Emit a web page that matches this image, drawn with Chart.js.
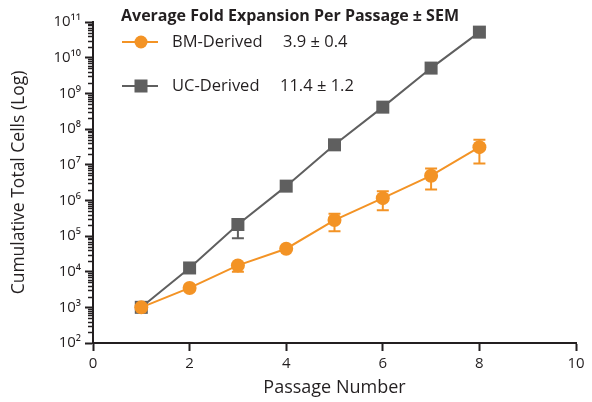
<!DOCTYPE html>
<html>
<head>
<meta charset="utf-8">
<script src="https://cdn.jsdelivr.net/npm/chart.js@4"></script>
<style>
  html, body { margin: 0; padding: 0; background: #fff; }
  #wrap { width: 592px; height: 402px; }
</style>
</head>
<body>
<div id="wrap"><canvas id="chart"></canvas></div>
<script>
// passage numbers and cumulative cell counts
const passages = [1, 2, 3, 4, 5, 6, 7, 8];

const bmMean = [1000, 3500, 15000, 44000, 280000, 1150000, 4900000, 31000000];
const bmLow  = [1000, 3500, 10000, 44000, 135000, 530000, 2000000, 10700000];
const bmHigh = [1000, 3500, 17000, 44000, 420000, 1800000, 7800000, 50000000];

const ucMean = [1000, 12700, 210000, 2500000, 36000000, 410000000, 5100000000, 52000000000];
const ucLow  = [1000, 12700, 87000, 2500000, 36000000, 410000000, 5100000000, 52000000000];
const ucHigh = [1000, 12700, 210000, 2500000, 36000000, 410000000, 5100000000, 52000000000];

const seriesNames = ["BM-Derived", "UC-Derived"];
const foldText = ["3.9 \u00b1 0.4", "11.4 \u00b1 1.2"];
const legendTitle = "Average Fold Expansion Per Passage \u00b1 SEM";

const xTicks = [0, 2, 4, 6, 8, 10];
const yExponents = [2, 3, 4, 5, 6, 7, 8, 9, 10, 11];

const ORANGE = "#F39325";
const GRAY = "#5f5f5f";
const INK = "#231f20";
const FONT = "'Open Sans', 'Noto Sans', sans-serif";

const supDigits = { "0": "\u2070", "1": "\u00b9", "2": "\u00b2", "3": "\u00b3", "4": "\u2074",
  "5": "\u2075", "6": "\u2076", "7": "\u2077", "8": "\u2078", "9": "\u2079" };
function powLabel(v) {
  const e = Math.round(Math.log10(v));
  return "10" + String(e).split("").map(d => supDigits[d]).join("");
}

const errorBars = [
  { low: bmLow, high: bmHigh, mean: bmMean, color: ORANGE },
  { low: ucLow, high: ucHigh, mean: ucMean, color: GRAY }
];

// error bars behind the markers
const errorBarPlugin = {
  id: "errorBars",
  beforeDatasetsDraw(chart) {
    const { ctx, scales: { x, y } } = chart;
    ctx.save();
    ctx.lineWidth = 2;
    errorBars.forEach(eb => {
      ctx.strokeStyle = eb.color;
      passages.forEach((p, i) => {
        const px = x.getPixelForValue(p);
        const cap = 6;
        [eb.low[i], eb.high[i]].forEach(v => {
          if (v === eb.mean[i]) return;
          const py0 = y.getPixelForValue(eb.mean[i]);
          const py = y.getPixelForValue(v);
          ctx.beginPath();
          ctx.moveTo(px, py0);
          ctx.lineTo(px, py);
          ctx.moveTo(px - cap, py);
          ctx.lineTo(px + cap, py);
          ctx.stroke();
        });
      });
    });
    ctx.restore();
  }
};

// short minor ticks on the log axis
const minorTickPlugin = {
  id: "minorTicks",
  afterDraw(chart) {
    const { ctx, scales: { y } } = chart;
    ctx.save();
    ctx.strokeStyle = INK;
    ctx.lineWidth = 1.5;
    for (let e = yExponents[0]; e < yExponents[yExponents.length - 1]; e++) {
      for (let m = 2; m <= 9; m++) {
        const py = Math.round(y.getPixelForValue(m * Math.pow(10, e))) + 0.5;
        ctx.beginPath();
        ctx.moveTo(y.right - 5, py);
        ctx.lineTo(y.right, py);
        ctx.stroke();
      }
    }
    ctx.restore();
  }
};

// legend block with title and fold expansion values
const legendPlugin = {
  id: "foldLegend",
  afterDraw(chart) {
    const { ctx } = chart;
    ctx.save();
    ctx.fillStyle = INK;
    ctx.textBaseline = "middle";
    ctx.font = "bold 16px " + FONT;
    ctx.fillText(legendTitle, 121, 16);

    const rows = [42, 86];
    const colors = [ORANGE, GRAY];
    rows.forEach((ly, i) => {
      ctx.strokeStyle = colors[i];
      ctx.lineWidth = 2;
      ctx.beginPath();
      ctx.moveTo(122, ly);
      ctx.lineTo(158, ly);
      ctx.stroke();
      ctx.fillStyle = colors[i];
      if (i === 0) {
        ctx.beginPath();
        ctx.arc(141, ly, 6.5, 0, Math.PI * 2);
        ctx.fill();
      } else {
        ctx.fillRect(134.5, ly - 6.5, 13, 13);
      }
      ctx.fillStyle = INK;
      ctx.font = "16.5px " + FONT;
      ctx.fillText(seriesNames[i], 172, ly);
      ctx.fillText(foldText[i], i === 0 ? 283 : 280, ly);
    });
    ctx.restore();
  }
};

new Chart(document.getElementById("chart"), {
  type: "line",
  data: {
    datasets: [
      {
        label: seriesNames[0],
        data: passages.map((p, i) => ({ x: p, y: bmMean[i] })),
        borderColor: ORANGE,
        backgroundColor: ORANGE,
        borderWidth: 2,
        pointStyle: "circle",
        pointRadius: 7,
        pointBorderWidth: 0
      },
      {
        label: seriesNames[1],
        data: passages.map((p, i) => ({ x: p, y: ucMean[i] })),
        borderColor: GRAY,
        backgroundColor: GRAY,
        borderWidth: 2,
        pointStyle: "rect",
        pointRadius: 9.2,
        pointBorderWidth: 0
      }
    ]
  },
  options: {
    responsive: true,
    maintainAspectRatio: false,
    animation: false,
    layout: { padding: { left: 8, top: 22, right: 16, bottom: 0 } },
    plugins: {
      legend: { display: false },
      tooltip: { enabled: false }
    },
    scales: {
      x: {
        type: "linear",
        min: 0,
        max: 10,
        afterBuildTicks: s => { s.ticks = xTicks.map(v => ({ value: v })); },
        afterFit: s => { s.height = 59; },
        grid: { drawOnChartArea: false, tickLength: 8, tickWidth: 2, tickColor: INK },
        border: { color: INK, width: 2 },
        ticks: { color: INK, font: { family: FONT, size: 15 }, padding: 4 },
        title: {
          display: true,
          text: "Passage Number",
          color: INK,
          font: { family: FONT, size: 18 },
          padding: { top: 4, bottom: 3 }
        }
      },
      y: {
        type: "logarithmic",
        min: 100,
        max: 1e11,
        afterBuildTicks: s => { s.ticks = yExponents.map(e => ({ value: Math.pow(10, e) })); },
        afterFit: s => { s.width = 85; },
        grid: { drawOnChartArea: false, tickLength: 8, tickWidth: 2, tickColor: INK },
        border: { color: INK, width: 2 },
        ticks: {
          color: INK,
          font: { family: FONT, size: 15 },
          padding: 4,
          callback: v => powLabel(v)
        },
        title: {
          display: true,
          text: "Cumulative Total Cells (Log)",
          color: INK,
          font: { family: FONT, size: 17.5 },
          padding: { top: 1, bottom: 4 }
        }
      }
    }
  },
  plugins: [errorBarPlugin, minorTickPlugin, legendPlugin]
});
</script>
</body>
</html>
